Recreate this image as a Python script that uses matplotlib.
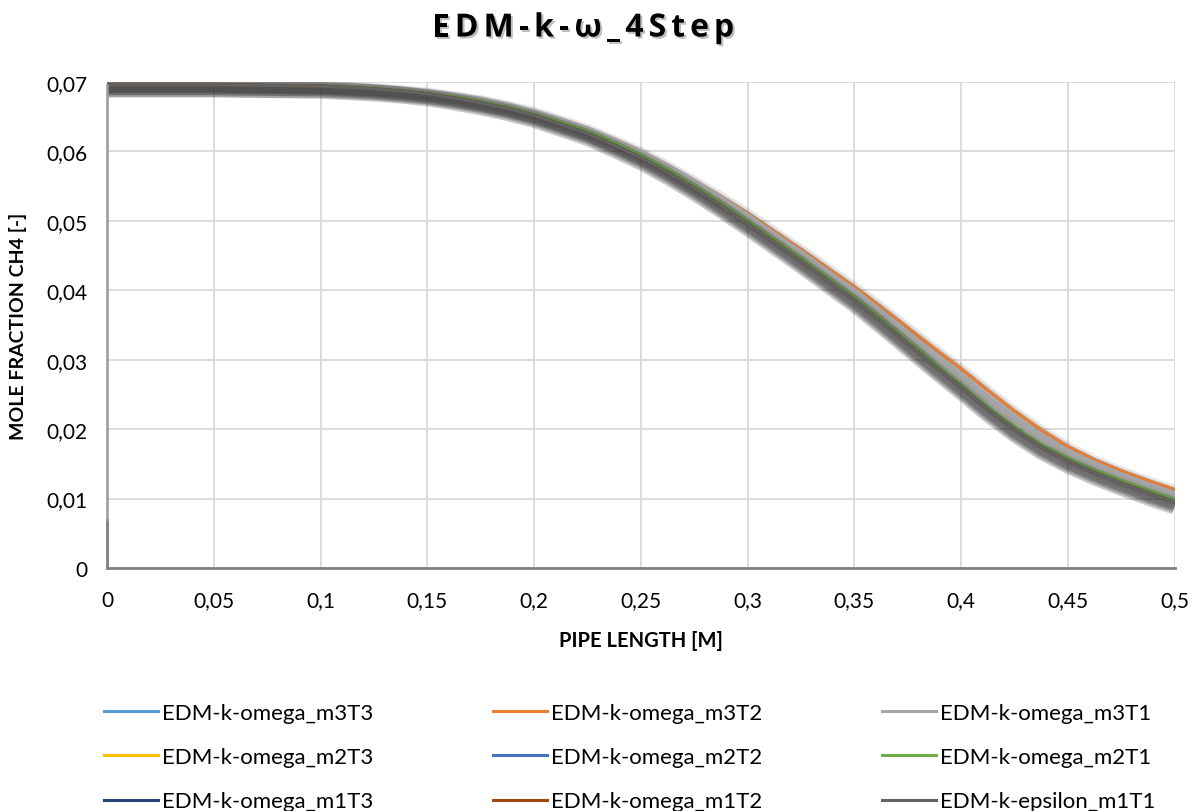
import matplotlib
matplotlib.use("Agg")
import matplotlib.pyplot as plt
import matplotlib.patheffects as pe
from matplotlib.font_manager import FontProperties
from matplotlib.ticker import FuncFormatter, MultipleLocator

plt.rcParams['font.family'] = ['Lato', 'Open Sans', 'DejaVu Sans']

# Pipe axial position [m]
x = [0.0, 0.025, 0.05, 0.075, 0.1, 0.1125, 0.125, 0.1375, 0.15, 0.1625, 0.175, 0.1875,
     0.2, 0.2125, 0.225, 0.2375, 0.25, 0.2625, 0.275, 0.2875, 0.3, 0.3125, 0.325, 0.3375,
     0.35, 0.3625, 0.375, 0.3875, 0.4, 0.4125, 0.425, 0.4375, 0.45, 0.4625, 0.475, 0.4875, 0.5]

# CH4 mole fraction along the pipe for each model setup
upper_profile = [0.0696, 0.0696, 0.0696, 0.0695, 0.0695, 0.0694, 0.0692, 0.0689, 0.0686, 0.0681,
                 0.0675, 0.0667, 0.0658, 0.0646, 0.0633, 0.0617, 0.0600, 0.0580, 0.0558, 0.0535,
                 0.0511, 0.0485, 0.0459, 0.0432, 0.0405, 0.0376, 0.0346, 0.0316, 0.0287, 0.0256,
                 0.0226, 0.0199, 0.0175, 0.0156, 0.0140, 0.0126, 0.0113]
m3T3 = list(upper_profile)
m3T2 = list(upper_profile)
m3T1 = [0.0696, 0.0696, 0.0696, 0.0695, 0.0695, 0.0694, 0.0692, 0.0689, 0.0685, 0.0680,
        0.0674, 0.0666, 0.0656, 0.0644, 0.0631, 0.0615, 0.0598, 0.0577, 0.0555, 0.0531,
        0.0506, 0.0479, 0.0453, 0.0425, 0.0398, 0.0368, 0.0337, 0.0306, 0.0276, 0.0244,
        0.0215, 0.0189, 0.0167, 0.0149, 0.0133, 0.0119, 0.0106]
m2T1 = [0.0696, 0.0696, 0.0696, 0.0695, 0.0694, 0.0693, 0.0691, 0.0688, 0.0684, 0.0679,
        0.0672, 0.0664, 0.0654, 0.0642, 0.0629, 0.0613, 0.0595, 0.0574, 0.0551, 0.0526,
        0.0500, 0.0473, 0.0446, 0.0418, 0.0390, 0.0359, 0.0327, 0.0295, 0.0264, 0.0232,
        0.0203, 0.0178, 0.0158, 0.0141, 0.0126, 0.0112, 0.0099]
lower_profile = [0.0696, 0.0696, 0.0696, 0.0695, 0.0694, 0.0692, 0.0690, 0.0687, 0.0683, 0.0677,
                 0.0670, 0.0662, 0.0652, 0.0639, 0.0626, 0.0609, 0.0591, 0.0570, 0.0547, 0.0522,
                 0.0496, 0.0469, 0.0442, 0.0414, 0.0386, 0.0355, 0.0323, 0.0291, 0.0260, 0.0228,
                 0.0199, 0.0174, 0.0154, 0.0137, 0.0122, 0.0108, 0.0095]
m2T3 = list(lower_profile)
m2T2 = list(lower_profile)
m1T3 = list(lower_profile)
m1T2 = list(lower_profile)
eps_m1T1 = list(lower_profile)

# inlet value of the m3T1 run at x = 0
inlet_low = 0.0069

series = [
    ("EDM-k-omega_m3T3", m3T3, "#5B9BD5"),
    ("EDM-k-omega_m3T2", m3T2, "#ED7D31"),
    ("EDM-k-omega_m3T1", m3T1, "#A5A5A5"),
    ("EDM-k-omega_m2T3", m2T3, "#FFC000"),
    ("EDM-k-omega_m2T2", m2T2, "#4472C4"),
    ("EDM-k-omega_m2T1", m2T1, "#70AD47"),
    ("EDM-k-omega_m1T3", m1T3, "#264478"),
    ("EDM-k-omega_m1T2", m1T2, "#9E480E"),
    ("EDM-k-epsilon_m1T1", eps_m1T1, "#636363"),
]

fig = plt.figure(figsize=(12, 8.12), dpi=100)
ax = fig.add_axes([0.0892, 0.2993, 0.8897, 0.5985])

shadow = [pe.SimpleLineShadow(offset=(0, -3), shadow_color="#303030", alpha=0.06, rho=1.0, linewidth=w)
          for w in (12, 9, 6)] + [pe.Normal()]

handles = []
for label, y, color in series:
    lw = 2.2
    if label.endswith("m3T1"):
        lw = 5.0
        ax.plot([x[0], x[0]], [inlet_low, y[0]], color="#9A9A9A", lw=1.8, zorder=4, clip_on=False)
    ax.plot(x, y, color=color, lw=lw, solid_capstyle="butt", solid_joinstyle="round",
            path_effects=shadow, zorder=3)
    handles.append((plt.Line2D([], [], color=color, lw=2.2), label))

ax.set_xlim(0, 0.5)
ax.set_ylim(0, 0.07)
ax.xaxis.set_major_locator(MultipleLocator(0.05))
ax.yaxis.set_major_locator(MultipleLocator(0.01))


def comma_fmt(v, pos):
    s = f"{v:.2f}".rstrip("0").rstrip(".")
    return s.replace(".", ",")


ax.xaxis.set_major_formatter(FuncFormatter(comma_fmt))
ax.yaxis.set_major_formatter(FuncFormatter(comma_fmt))
ax.grid(True, color="#D9D9D9", lw=1.3)
ax.set_axisbelow(True)
for s in ("top", "right", "left"):
    ax.spines[s].set_visible(False)
ax.spines["bottom"].set_color("#808080")
ax.spines["bottom"].set_linewidth(2.0)
ax.tick_params(length=0, labelsize=15, colors="black")
ax.tick_params(axis="x", pad=16)
ax.tick_params(axis="y", pad=14)
ax.axvline(0, ymin=0, ymax=inlet_low / 0.07, color="#7F7F7F", lw=2.0, zorder=2, clip_on=False)

ax.set_xlabel("PIPE LENGTH [M]", fontsize=14.5, fontweight="bold", labelpad=14)
ax.set_ylabel("MOLE FRACTION CH4 [-]", fontsize=14, fontweight="bold", labelpad=14)

# Title with letter spacing and a soft shadow
title = "EDM-k-ω_4Step"
fp = FontProperties(family=["Open Sans", "DejaVu Sans"], weight="bold", size=23)
renderer = fig.canvas.get_renderer()
spacing = 5.0
widths = [renderer.get_text_width_height_descent(c, fp, ismath=False)[0] for c in title]
total = sum(widths) + spacing * (len(title) - 1)
cx, cy = 583, 812 - 29
cur = cx - total / 2
for c, w in zip(title, widths):
    fig.text(cur / 1200, cy / 812, c, fontproperties=fp, ha="left", va="center",
             path_effects=[pe.withSimplePatchShadow(offset=(1.5, -1.5), shadow_rgbFace="#000000", alpha=0.25)])
    cur += w + spacing

# Legend, laid out row by row in three columns
order = [0, 3, 6, 1, 4, 7, 2, 5, 8]
leg = fig.legend([handles[i][0] for i in order], [handles[i][1] for i in order],
                 ncol=3, loc="center", bbox_to_anchor=(0.525, 0.0665), frameon=False,
                 fontsize=16, handlelength=2.4, handletextpad=0.2, columnspacing=5.4,
                 labelspacing=1.1)

fig.savefig("out.png", dpi=100, facecolor="white")
